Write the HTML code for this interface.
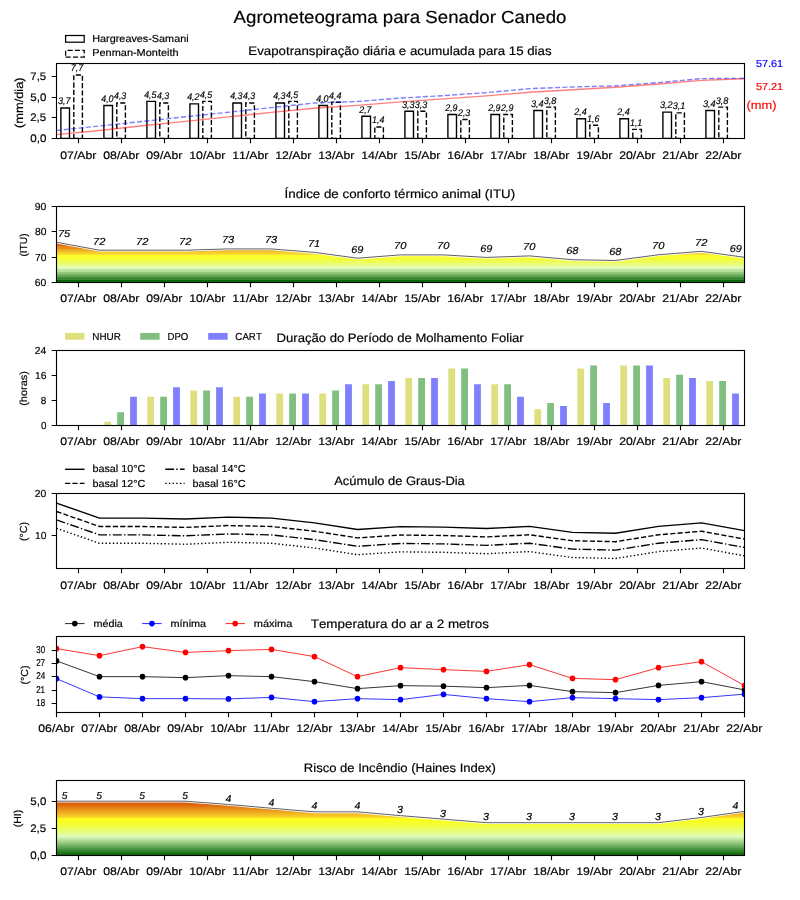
<!DOCTYPE html>
<html lang="pt"><head><meta charset="utf-8"><title>Agrometeograma para Senador Canedo</title>
<style>html,body{margin:0;padding:0;background:#fff}svg{display:block;will-change:transform}text{text-rendering:geometricPrecision;stroke:#000;stroke-width:.18px;font-family:"Liberation Sans",sans-serif;font-kerning:none;font-variant-ligatures:none;white-space:pre}</style></head>
<body>
<svg width="800" height="900" viewBox="0 0 800 900" font-family="'Liberation Sans', sans-serif">
<rect width="800" height="900" fill="#fff"/>
<defs>
<clipPath id="c0"><rect x="56.5" y="63.5" width="688.0" height="75.0"/></clipPath>
<clipPath id="c1"><rect x="56.5" y="206.5" width="688.0" height="76.0"/></clipPath>
<clipPath id="c2"><rect x="56.5" y="350.5" width="688.0" height="75.0"/></clipPath>
<clipPath id="c3"><rect x="56.5" y="493.5" width="688.0" height="75.0"/></clipPath>
<clipPath id="c4"><rect x="56.5" y="636.5" width="688.0" height="76.0"/></clipPath>
<clipPath id="c5"><rect x="56.5" y="780.5" width="688.0" height="75.0"/></clipPath>
</defs>
<text x="233.58" y="23" font-size="17.5" textLength="332.81" lengthAdjust="spacingAndGlyphs">Agrometeograma para Senador Canedo</text>
<g clip-path="url(#c0)">
<path d="M60.9 138.5h8.6v-30.54h-8.6zM103.9 138.5h8.6v-33.02h-8.6zM146.9 138.5h8.6v-37.14h-8.6zM189.9 138.5h8.6v-34.67h-8.6zM232.9 138.5h8.6v-35.49h-8.6zM275.9 138.5h8.6v-35.49h-8.6zM318.9 138.5h8.6v-33.02h-8.6zM361.9 138.5h8.6v-22.29h-8.6zM404.9 138.5h8.6v-27.24h-8.6zM447.9 138.5h8.6v-23.94h-8.6zM490.9 138.5h8.6v-23.94h-8.6zM533.9 138.5h8.6v-28.06h-8.6zM576.9 138.5h8.6v-19.81h-8.6zM619.9 138.5h8.6v-19.81h-8.6zM662.9 138.5h8.6v-26.41h-8.6zM705.9 138.5h8.6v-28.06h-8.6z" fill="none" stroke="#000" stroke-width="1.39"/>
<path d="M73.8 138.5h8.6v-63.56h-8.6zM116.8 138.5h8.6v-35.49h-8.6zM159.8 138.5h8.6v-35.49h-8.6zM202.8 138.5h8.6v-37.14h-8.6zM245.8 138.5h8.6v-35.49h-8.6zM288.8 138.5h8.6v-37.14h-8.6zM331.8 138.5h8.6v-36.32h-8.6zM374.8 138.5h8.6v-11.56h-8.6zM417.8 138.5h8.6v-27.24h-8.6zM460.8 138.5h8.6v-18.98h-8.6zM503.8 138.5h8.6v-23.94h-8.6zM546.8 138.5h8.6v-31.37h-8.6zM589.8 138.5h8.6v-13.21h-8.6zM632.8 138.5h8.6v-9.08h-8.6zM675.8 138.5h8.6v-25.59h-8.6zM718.8 138.5h8.6v-31.37h-8.6z" fill="none" stroke="#000" stroke-width="1.39" stroke-dasharray="5.14 2.22"/>
<polyline points="56.5,134.63 99.5,130.45 142.5,125.75 185.5,121.36 228.5,116.87 271.5,112.38 314.5,108.19 357.5,105.37 400.5,101.93 443.5,98.89 486.5,95.86 529.5,92.31 572.5,89.8 615.5,87.3 658.5,83.95 701.5,80.4 744.5,78.72" fill="none" stroke="#ff0000" stroke-opacity="0.5" stroke-width="1.39"/>
<polyline points="56.5,130.45 99.5,125.96 142.5,121.47 185.5,116.76 228.5,112.27 271.5,107.57 314.5,102.97 357.5,101.51 400.5,98.06 443.5,95.66 486.5,92.62 529.5,88.65 572.5,86.98 615.5,85.83 658.5,82.59 701.5,78.62 744.5,78.3" fill="none" stroke="#0000ff" stroke-opacity="0.5" stroke-width="1.39" stroke-dasharray="5.14 2.22"/>
</g>
<text x="57.91" y="104.36" font-size="9.63" font-style="italic" textLength="12.63" lengthAdjust="spacingAndGlyphs">3,7</text>
<text x="70.71" y="71.34" font-size="9.63" font-style="italic" textLength="12.63" lengthAdjust="spacingAndGlyphs">7,7</text>
<text x="101.19" y="101.88" font-size="9.63" font-style="italic" textLength="12.37" lengthAdjust="spacingAndGlyphs">4,0</text>
<text x="113.99" y="99.41" font-size="9.63" font-style="italic" textLength="12.26" lengthAdjust="spacingAndGlyphs">4,3</text>
<text x="144.19" y="97.76" font-size="9.63" font-style="italic" textLength="12.23" lengthAdjust="spacingAndGlyphs">4,5</text>
<text x="156.99" y="99.41" font-size="9.63" font-style="italic" textLength="12.26" lengthAdjust="spacingAndGlyphs">4,3</text>
<text x="187.19" y="100.23" font-size="9.63" font-style="italic" textLength="12.33" lengthAdjust="spacingAndGlyphs">4,2</text>
<text x="199.99" y="97.76" font-size="9.63" font-style="italic" textLength="12.23" lengthAdjust="spacingAndGlyphs">4,5</text>
<text x="230.19" y="99.41" font-size="9.63" font-style="italic" textLength="12.26" lengthAdjust="spacingAndGlyphs">4,3</text>
<text x="242.99" y="99.41" font-size="9.63" font-style="italic" textLength="12.26" lengthAdjust="spacingAndGlyphs">4,3</text>
<text x="273.19" y="99.41" font-size="9.63" font-style="italic" textLength="12.26" lengthAdjust="spacingAndGlyphs">4,3</text>
<text x="285.99" y="97.76" font-size="9.63" font-style="italic" textLength="12.23" lengthAdjust="spacingAndGlyphs">4,5</text>
<text x="316.19" y="101.88" font-size="9.63" font-style="italic" textLength="12.37" lengthAdjust="spacingAndGlyphs">4,0</text>
<text x="328.99" y="98.58" font-size="9.63" font-style="italic" textLength="12.46" lengthAdjust="spacingAndGlyphs">4,4</text>
<text x="359.19" y="112.61" font-size="9.63" font-style="italic" textLength="12.36" lengthAdjust="spacingAndGlyphs">2,7</text>
<text x="372.07" y="123.34" font-size="9.63" font-style="italic" textLength="12.39" lengthAdjust="spacingAndGlyphs">1,4</text>
<text x="401.91" y="107.66" font-size="9.63" font-style="italic" textLength="12.55" lengthAdjust="spacingAndGlyphs">3,3</text>
<text x="414.71" y="107.66" font-size="9.63" font-style="italic" textLength="12.55" lengthAdjust="spacingAndGlyphs">3,3</text>
<text x="445.19" y="110.96" font-size="9.63" font-style="italic" textLength="12.39" lengthAdjust="spacingAndGlyphs">2,9</text>
<text x="457.99" y="115.92" font-size="9.63" font-style="italic" textLength="12.27" lengthAdjust="spacingAndGlyphs">2,3</text>
<text x="488.19" y="110.96" font-size="9.63" font-style="italic" textLength="12.39" lengthAdjust="spacingAndGlyphs">2,9</text>
<text x="500.99" y="110.96" font-size="9.63" font-style="italic" textLength="12.39" lengthAdjust="spacingAndGlyphs">2,9</text>
<text x="530.91" y="106.84" font-size="9.63" font-style="italic" textLength="12.76" lengthAdjust="spacingAndGlyphs">3,4</text>
<text x="543.71" y="103.53" font-size="9.63" font-style="italic" textLength="12.69" lengthAdjust="spacingAndGlyphs">3,8</text>
<text x="574.19" y="115.09" font-size="9.63" font-style="italic" textLength="12.47" lengthAdjust="spacingAndGlyphs">2,4</text>
<text x="587.07" y="121.69" font-size="9.63" font-style="italic" textLength="12.27" lengthAdjust="spacingAndGlyphs">1,6</text>
<text x="617.19" y="115.09" font-size="9.63" font-style="italic" textLength="12.47" lengthAdjust="spacingAndGlyphs">2,4</text>
<text x="630.07" y="125.82" font-size="9.63" font-style="italic" textLength="12.14" lengthAdjust="spacingAndGlyphs">1,1</text>
<text x="659.91" y="108.49" font-size="9.63" font-style="italic" textLength="12.62" lengthAdjust="spacingAndGlyphs">3,2</text>
<text x="672.71" y="109.31" font-size="9.63" font-style="italic" textLength="12.53" lengthAdjust="spacingAndGlyphs">3,1</text>
<text x="702.91" y="106.84" font-size="9.63" font-style="italic" textLength="12.76" lengthAdjust="spacingAndGlyphs">3,4</text>
<text x="715.71" y="103.53" font-size="9.63" font-style="italic" textLength="12.69" lengthAdjust="spacingAndGlyphs">3,8</text>
<rect x="56.5" y="63.5" width="688.0" height="75.0" fill="none" stroke="#000" stroke-width="1.11"/>
<path d="M78.5 138.5v4.86M121.5 138.5v4.86M164.5 138.5v4.86M207.5 138.5v4.86M250.5 138.5v4.86M293.5 138.5v4.86M336.5 138.5v4.86M379.5 138.5v4.86M422.5 138.5v4.86M465.5 138.5v4.86M508.5 138.5v4.86M551.5 138.5v4.86M594.5 138.5v4.86M637.5 138.5v4.86M680.5 138.5v4.86M723.5 138.5v4.86" stroke="#000" stroke-width="1.11" fill="none"/>
<text x="60.25" y="158.75" font-size="10.94" textLength="36.15" lengthAdjust="spacingAndGlyphs">07/Abr</text>
<text x="103.25" y="158.75" font-size="10.94" textLength="36.15" lengthAdjust="spacingAndGlyphs">08/Abr</text>
<text x="146.25" y="158.75" font-size="10.94" textLength="36.15" lengthAdjust="spacingAndGlyphs">09/Abr</text>
<text x="189.27" y="158.75" font-size="10.94" textLength="36.12" lengthAdjust="spacingAndGlyphs">10/Abr</text>
<text x="232.27" y="158.75" font-size="10.94" textLength="36.12" lengthAdjust="spacingAndGlyphs">11/Abr</text>
<text x="275.27" y="158.75" font-size="10.94" textLength="36.12" lengthAdjust="spacingAndGlyphs">12/Abr</text>
<text x="318.27" y="158.75" font-size="10.94" textLength="36.12" lengthAdjust="spacingAndGlyphs">13/Abr</text>
<text x="361.27" y="158.75" font-size="10.94" textLength="36.12" lengthAdjust="spacingAndGlyphs">14/Abr</text>
<text x="404.27" y="158.75" font-size="10.94" textLength="36.12" lengthAdjust="spacingAndGlyphs">15/Abr</text>
<text x="447.27" y="158.75" font-size="10.94" textLength="36.12" lengthAdjust="spacingAndGlyphs">16/Abr</text>
<text x="490.27" y="158.75" font-size="10.94" textLength="36.12" lengthAdjust="spacingAndGlyphs">17/Abr</text>
<text x="533.27" y="158.75" font-size="10.94" textLength="36.12" lengthAdjust="spacingAndGlyphs">18/Abr</text>
<text x="576.27" y="158.75" font-size="10.94" textLength="36.12" lengthAdjust="spacingAndGlyphs">19/Abr</text>
<text x="619.19" y="158.75" font-size="10.94" textLength="36.2" lengthAdjust="spacingAndGlyphs">20/Abr</text>
<text x="662.19" y="158.75" font-size="10.94" textLength="36.2" lengthAdjust="spacingAndGlyphs">21/Abr</text>
<text x="705.19" y="158.75" font-size="10.94" textLength="36.2" lengthAdjust="spacingAndGlyphs">22/Abr</text>
<path d="M56.5 76.5h-4.86M56.5 97.5h-4.86M56.5 117.5h-4.86M56.5 138.5h-4.86" stroke="#000" stroke-width="1.11" fill="none"/>
<text x="30.3" y="80.3" font-size="10.94" textLength="15.87" lengthAdjust="spacingAndGlyphs">7,5</text>
<text x="30.38" y="101.3" font-size="10.94" textLength="15.98" lengthAdjust="spacingAndGlyphs">5,0</text>
<text x="30.22" y="121.3" font-size="10.94" textLength="15.95" lengthAdjust="spacingAndGlyphs">2,5</text>
<text x="30.27" y="142.3" font-size="10.94" textLength="16.09" lengthAdjust="spacingAndGlyphs">0,0</text>
<text transform="translate(22.6 102.7) rotate(-90)" x="-25.35" y="0" font-size="11.67" textLength="50.69" lengthAdjust="spacingAndGlyphs">(mm/dia)</text>
<text x="248.39" y="55.4" font-size="12.32" textLength="303.19" lengthAdjust="spacingAndGlyphs">Evapotranspiração diária e acumulada para 15 dias</text>
<rect x="65.6" y="35.5" width="18.6" height="6.7" fill="none" stroke="#000" stroke-width="1.25"/>
<path d="M65.6 57.1h18.6v-6.7h-18.6z" fill="none" stroke="#000" stroke-width="1.25" stroke-dasharray="5.14 2.22"/>
<text x="92.27" y="41.7" font-size="10.21" textLength="96.33" lengthAdjust="spacingAndGlyphs">Hargreaves-Samani</text>
<text x="92.26" y="56.4" font-size="10.21" textLength="86.32" lengthAdjust="spacingAndGlyphs">Penman-Monteith</text>
<text x="755.92" y="67.1" font-size="10.21" fill="#0000ff" style="stroke:#0000ff" textLength="27.29" lengthAdjust="spacingAndGlyphs">57.61</text>
<text x="755.92" y="90" font-size="10.21" fill="#ff0000" style="stroke:#ff0000" textLength="27.29" lengthAdjust="spacingAndGlyphs">57.21</text>
<text x="746.46" y="108.7" font-size="11.67" fill="#ff0000" style="stroke:#ff0000" textLength="30" lengthAdjust="spacingAndGlyphs">(mm)</text>
<clipPath id="k1"><polygon points="56.5,282.5 56.5,242.22 99.5,250.2 142.5,250.2 185.5,250.2 228.5,248.93 271.5,248.93 314.5,252.35 357.5,258.18 400.5,254.89 443.5,254.89 486.5,257.42 529.5,255.9 572.5,259.7 615.5,260.46 658.5,254.76 701.5,251.34 744.5,257.29 744.5,282.5"/></clipPath>
<g clip-path="url(#k1)">
<rect x="56.5" y="279.69" width="688.0" height="3.11" fill="#0b680a"/>
<rect x="56.5" y="276.87" width="688.0" height="3.11" fill="#388730"/>
<rect x="56.5" y="274.06" width="688.0" height="3.11" fill="#65a656"/>
<rect x="56.5" y="271.24" width="688.0" height="3.11" fill="#92c67d"/>
<rect x="56.5" y="268.43" width="688.0" height="3.11" fill="#bfe5a3"/>
<rect x="56.5" y="265.61" width="688.0" height="3.11" fill="#e2fcb2"/>
<rect x="56.5" y="262.8" width="688.0" height="3.11" fill="#e8fd7f"/>
<rect x="56.5" y="259.98" width="688.0" height="3.11" fill="#eefd55"/>
<rect x="56.5" y="257.17" width="688.0" height="3.11" fill="#f4fe34"/>
<rect x="56.5" y="254.35" width="688.0" height="3.11" fill="#faff1f"/>
<rect x="56.5" y="251.54" width="688.0" height="3.11" fill="#f8d028"/>
<rect x="56.5" y="248.72" width="688.0" height="3.11" fill="#efaf1f"/>
<rect x="56.5" y="245.91" width="688.0" height="3.11" fill="#e78d17"/>
<rect x="56.5" y="243.09" width="688.0" height="3.11" fill="#df6b0f"/>
<rect x="56.5" y="240.28" width="688.0" height="3.11" fill="#d64a06"/>
<rect x="56.5" y="237.46" width="688.0" height="3.11" fill="#d03100"/>
</g>
<g clip-path="url(#c1)" fill="none"><polyline points="56.5,242.22 99.5,250.2 142.5,250.2 185.5,250.2 228.5,248.93 271.5,248.93 314.5,252.35 357.5,258.18 400.5,254.89 443.5,254.89 486.5,257.42 529.5,255.9 572.5,259.7 615.5,260.46 658.5,254.76 701.5,251.34 744.5,257.29" stroke="#fff" stroke-width="2.6"/><polyline points="56.5,242.22 99.5,250.2 142.5,250.2 185.5,250.2 228.5,248.93 271.5,248.93 314.5,252.35 357.5,258.18 400.5,254.89 443.5,254.89 486.5,257.42 529.5,255.9 572.5,259.7 615.5,260.46 658.5,254.76 701.5,251.34 744.5,257.29" stroke="#000" stroke-opacity="0.7" stroke-width="0.9"/></g>
<text x="58" y="236.62" font-size="10.21" font-style="italic" textLength="12.21" lengthAdjust="spacingAndGlyphs">75</text>
<text x="92.99" y="244.6" font-size="10.21" font-style="italic" textLength="12.34" lengthAdjust="spacingAndGlyphs">72</text>
<text x="135.99" y="244.6" font-size="10.21" font-style="italic" textLength="12.34" lengthAdjust="spacingAndGlyphs">72</text>
<text x="178.99" y="244.6" font-size="10.21" font-style="italic" textLength="12.34" lengthAdjust="spacingAndGlyphs">72</text>
<text x="222" y="243.33" font-size="10.21" font-style="italic" textLength="12.24" lengthAdjust="spacingAndGlyphs">73</text>
<text x="265" y="243.33" font-size="10.21" font-style="italic" textLength="12.24" lengthAdjust="spacingAndGlyphs">73</text>
<text x="308" y="246.75" font-size="10.21" font-style="italic" textLength="12.21" lengthAdjust="spacingAndGlyphs">71</text>
<text x="351.23" y="252.58" font-size="10.21" font-style="italic" textLength="12.16" lengthAdjust="spacingAndGlyphs">69</text>
<text x="393.98" y="249.29" font-size="10.21" font-style="italic" textLength="12.39" lengthAdjust="spacingAndGlyphs">70</text>
<text x="436.98" y="249.29" font-size="10.21" font-style="italic" textLength="12.39" lengthAdjust="spacingAndGlyphs">70</text>
<text x="480.23" y="251.82" font-size="10.21" font-style="italic" textLength="12.16" lengthAdjust="spacingAndGlyphs">69</text>
<text x="522.98" y="250.3" font-size="10.21" font-style="italic" textLength="12.39" lengthAdjust="spacingAndGlyphs">70</text>
<text x="566.23" y="254.1" font-size="10.21" font-style="italic" textLength="12.19" lengthAdjust="spacingAndGlyphs">68</text>
<text x="609.23" y="254.86" font-size="10.21" font-style="italic" textLength="12.19" lengthAdjust="spacingAndGlyphs">68</text>
<text x="651.98" y="249.16" font-size="10.21" font-style="italic" textLength="12.39" lengthAdjust="spacingAndGlyphs">70</text>
<text x="694.99" y="245.74" font-size="10.21" font-style="italic" textLength="12.34" lengthAdjust="spacingAndGlyphs">72</text>
<text x="729.73" y="251.69" font-size="10.21" font-style="italic" textLength="12.16" lengthAdjust="spacingAndGlyphs">69</text>
<rect x="56.5" y="206.5" width="688.0" height="76.0" fill="none" stroke="#000" stroke-width="1.11"/>
<path d="M78.5 282.5v4.86M121.5 282.5v4.86M164.5 282.5v4.86M207.5 282.5v4.86M250.5 282.5v4.86M293.5 282.5v4.86M336.5 282.5v4.86M379.5 282.5v4.86M422.5 282.5v4.86M465.5 282.5v4.86M508.5 282.5v4.86M551.5 282.5v4.86M594.5 282.5v4.86M637.5 282.5v4.86M680.5 282.5v4.86M723.5 282.5v4.86" stroke="#000" stroke-width="1.11" fill="none"/>
<text x="60.25" y="301.65" font-size="10.94" textLength="36.15" lengthAdjust="spacingAndGlyphs">07/Abr</text>
<text x="103.25" y="301.65" font-size="10.94" textLength="36.15" lengthAdjust="spacingAndGlyphs">08/Abr</text>
<text x="146.25" y="301.65" font-size="10.94" textLength="36.15" lengthAdjust="spacingAndGlyphs">09/Abr</text>
<text x="189.27" y="301.65" font-size="10.94" textLength="36.12" lengthAdjust="spacingAndGlyphs">10/Abr</text>
<text x="232.27" y="301.65" font-size="10.94" textLength="36.12" lengthAdjust="spacingAndGlyphs">11/Abr</text>
<text x="275.27" y="301.65" font-size="10.94" textLength="36.12" lengthAdjust="spacingAndGlyphs">12/Abr</text>
<text x="318.27" y="301.65" font-size="10.94" textLength="36.12" lengthAdjust="spacingAndGlyphs">13/Abr</text>
<text x="361.27" y="301.65" font-size="10.94" textLength="36.12" lengthAdjust="spacingAndGlyphs">14/Abr</text>
<text x="404.27" y="301.65" font-size="10.94" textLength="36.12" lengthAdjust="spacingAndGlyphs">15/Abr</text>
<text x="447.27" y="301.65" font-size="10.94" textLength="36.12" lengthAdjust="spacingAndGlyphs">16/Abr</text>
<text x="490.27" y="301.65" font-size="10.94" textLength="36.12" lengthAdjust="spacingAndGlyphs">17/Abr</text>
<text x="533.27" y="301.65" font-size="10.94" textLength="36.12" lengthAdjust="spacingAndGlyphs">18/Abr</text>
<text x="576.27" y="301.65" font-size="10.94" textLength="36.12" lengthAdjust="spacingAndGlyphs">19/Abr</text>
<text x="619.19" y="301.65" font-size="10.94" textLength="36.2" lengthAdjust="spacingAndGlyphs">20/Abr</text>
<text x="662.19" y="301.65" font-size="10.94" textLength="36.2" lengthAdjust="spacingAndGlyphs">21/Abr</text>
<text x="705.19" y="301.65" font-size="10.94" textLength="36.2" lengthAdjust="spacingAndGlyphs">22/Abr</text>
<path d="M56.5 206.5h-4.86M56.5 231.5h-4.86M56.5 257.5h-4.86M56.5 282.5h-4.86" stroke="#000" stroke-width="1.11" fill="none"/>
<text x="34.82" y="210.05" font-size="10.21" textLength="11.56" lengthAdjust="spacingAndGlyphs">90</text>
<text x="34.91" y="235.05" font-size="10.21" textLength="11.47" lengthAdjust="spacingAndGlyphs">80</text>
<text x="34.96" y="261.05" font-size="10.21" textLength="11.42" lengthAdjust="spacingAndGlyphs">70</text>
<text x="34.85" y="286.05" font-size="10.21" textLength="11.54" lengthAdjust="spacingAndGlyphs">60</text>
<text transform="translate(26.7 245) rotate(-90)" x="-11.61" y="0" font-size="10.21" textLength="23.21" lengthAdjust="spacingAndGlyphs">(ITU)</text>
<text x="284.64" y="198.4" font-size="12.32" textLength="230.54" lengthAdjust="spacingAndGlyphs">Índice de conforto térmico animal (ITU)</text>
<path d="M104.3 425.5h6.8v-3.83h-6.8zM147.3 425.5h6.8v-28.82h-6.8zM190.3 425.5h6.8v-35.08h-6.8zM233.3 425.5h6.8v-28.82h-6.8zM276.3 425.5h6.8v-31.95h-6.8zM319.3 425.5h6.8v-31.95h-6.8zM362.3 425.5h6.8v-41.33h-6.8zM405.3 425.5h6.8v-47.58h-6.8zM448.3 425.5h6.8v-56.95h-6.8zM491.3 425.5h6.8v-41.33h-6.8zM534.3 425.5h6.8v-16.32h-6.8zM577.3 425.5h6.8v-56.95h-6.8zM620.3 425.5h6.8v-60.08h-6.8zM663.3 425.5h6.8v-47.58h-6.8zM706.3 425.5h6.8v-44.45h-6.8z" fill="#dfdf80"/>
<path d="M117.2 425.5h6.8v-13.2h-6.8zM160.2 425.5h6.8v-28.82h-6.8zM203.2 425.5h6.8v-35.08h-6.8zM246.2 425.5h6.8v-28.82h-6.8zM289.2 425.5h6.8v-31.95h-6.8zM332.2 425.5h6.8v-35.08h-6.8zM375.2 425.5h6.8v-41.33h-6.8zM418.2 425.5h6.8v-47.58h-6.8zM461.2 425.5h6.8v-56.95h-6.8zM504.2 425.5h6.8v-41.33h-6.8zM547.2 425.5h6.8v-22.57h-6.8zM590.2 425.5h6.8v-60.08h-6.8zM633.2 425.5h6.8v-60.08h-6.8zM676.2 425.5h6.8v-50.7h-6.8zM719.2 425.5h6.8v-44.45h-6.8z" fill="#80bf80"/>
<path d="M130.1 425.5h6.8v-28.82h-6.8zM173.1 425.5h6.8v-38.2h-6.8zM216.1 425.5h6.8v-38.2h-6.8zM259.1 425.5h6.8v-31.95h-6.8zM302.1 425.5h6.8v-31.95h-6.8zM345.1 425.5h6.8v-41.33h-6.8zM388.1 425.5h6.8v-44.45h-6.8zM431.1 425.5h6.8v-47.58h-6.8zM474.1 425.5h6.8v-41.33h-6.8zM517.1 425.5h6.8v-28.82h-6.8zM560.1 425.5h6.8v-19.45h-6.8zM603.1 425.5h6.8v-22.57h-6.8zM646.1 425.5h6.8v-60.08h-6.8zM689.1 425.5h6.8v-47.58h-6.8zM732.1 425.5h6.8v-31.95h-6.8z" fill="#8080ff"/>
<rect x="56.5" y="350.5" width="688.0" height="75.0" fill="none" stroke="#000" stroke-width="1.11"/>
<path d="M78.5 425.5v4.86M121.5 425.5v4.86M164.5 425.5v4.86M207.5 425.5v4.86M250.5 425.5v4.86M293.5 425.5v4.86M336.5 425.5v4.86M379.5 425.5v4.86M422.5 425.5v4.86M465.5 425.5v4.86M508.5 425.5v4.86M551.5 425.5v4.86M594.5 425.5v4.86M637.5 425.5v4.86M680.5 425.5v4.86M723.5 425.5v4.86" stroke="#000" stroke-width="1.11" fill="none"/>
<text x="60.25" y="444.65" font-size="10.94" textLength="36.15" lengthAdjust="spacingAndGlyphs">07/Abr</text>
<text x="103.25" y="444.65" font-size="10.94" textLength="36.15" lengthAdjust="spacingAndGlyphs">08/Abr</text>
<text x="146.25" y="444.65" font-size="10.94" textLength="36.15" lengthAdjust="spacingAndGlyphs">09/Abr</text>
<text x="189.27" y="444.65" font-size="10.94" textLength="36.12" lengthAdjust="spacingAndGlyphs">10/Abr</text>
<text x="232.27" y="444.65" font-size="10.94" textLength="36.12" lengthAdjust="spacingAndGlyphs">11/Abr</text>
<text x="275.27" y="444.65" font-size="10.94" textLength="36.12" lengthAdjust="spacingAndGlyphs">12/Abr</text>
<text x="318.27" y="444.65" font-size="10.94" textLength="36.12" lengthAdjust="spacingAndGlyphs">13/Abr</text>
<text x="361.27" y="444.65" font-size="10.94" textLength="36.12" lengthAdjust="spacingAndGlyphs">14/Abr</text>
<text x="404.27" y="444.65" font-size="10.94" textLength="36.12" lengthAdjust="spacingAndGlyphs">15/Abr</text>
<text x="447.27" y="444.65" font-size="10.94" textLength="36.12" lengthAdjust="spacingAndGlyphs">16/Abr</text>
<text x="490.27" y="444.65" font-size="10.94" textLength="36.12" lengthAdjust="spacingAndGlyphs">17/Abr</text>
<text x="533.27" y="444.65" font-size="10.94" textLength="36.12" lengthAdjust="spacingAndGlyphs">18/Abr</text>
<text x="576.27" y="444.65" font-size="10.94" textLength="36.12" lengthAdjust="spacingAndGlyphs">19/Abr</text>
<text x="619.19" y="444.65" font-size="10.94" textLength="36.2" lengthAdjust="spacingAndGlyphs">20/Abr</text>
<text x="662.19" y="444.65" font-size="10.94" textLength="36.2" lengthAdjust="spacingAndGlyphs">21/Abr</text>
<text x="705.19" y="444.65" font-size="10.94" textLength="36.2" lengthAdjust="spacingAndGlyphs">22/Abr</text>
<path d="M56.5 350.5h-4.86M56.5 375.5h-4.86M56.5 400.5h-4.86M56.5 425.5h-4.86" stroke="#000" stroke-width="1.11" fill="none"/>
<text x="34.89" y="354.05" font-size="10.21" textLength="11.49" lengthAdjust="spacingAndGlyphs">24</text>
<text x="34.96" y="379.05" font-size="10.21" textLength="11.51" lengthAdjust="spacingAndGlyphs">16</text>
<text x="40.86" y="404.05" font-size="10.21" textLength="5.53" lengthAdjust="spacingAndGlyphs">8</text>
<text x="40.89" y="429.05" font-size="10.21" textLength="5.47" lengthAdjust="spacingAndGlyphs">0</text>
<text transform="translate(26.7 388.5) rotate(-90)" x="-17.28" y="0" font-size="10.21" textLength="34.56" lengthAdjust="spacingAndGlyphs">(horas)</text>
<text x="276.58" y="342.4" font-size="12.32" textLength="247.14" lengthAdjust="spacingAndGlyphs">Duração do Período de Molhamento Foliar</text>
<rect x="65.06" y="332.95" width="19.44" height="6.8" fill="#dfdf80"/>
<text x="92.31" y="339.8" font-size="10.21" textLength="28.63" lengthAdjust="spacingAndGlyphs">NHUR</text>
<rect x="140.2" y="332.95" width="19.44" height="6.8" fill="#80bf80"/>
<text x="167.47" y="339.8" font-size="10.21" textLength="20.85" lengthAdjust="spacingAndGlyphs">DPO</text>
<rect x="208.2" y="332.95" width="19.44" height="6.8" fill="#8080ff"/>
<text x="235.36" y="339.8" font-size="10.21" textLength="26.46" lengthAdjust="spacingAndGlyphs">CART</text>
<g clip-path="url(#c3)" fill="none" stroke="#000" stroke-width="1.39">
<polyline points="56.5,503.1 99.5,518.08 142.5,518.08 185.5,519.03 228.5,517.13 271.5,518.08 314.5,522.83 357.5,529.49 400.5,526.64 443.5,527.11 486.5,528.54 529.5,526.4 572.5,532.34 615.5,533.29 658.5,526.4 701.5,522.83 744.5,530.68"/>
<polyline points="56.5,511.5 99.5,526.48 142.5,526.48 185.5,527.43 228.5,525.53 271.5,526.48 314.5,531.23 357.5,537.89 400.5,535.04 443.5,535.51 486.5,536.94 529.5,534.8 572.5,540.74 615.5,541.69 658.5,534.8 701.5,531.23 744.5,539.08" stroke-dasharray="5.14 2.22"/>
<polyline points="56.5,519.9 99.5,534.88 142.5,534.88 185.5,535.83 228.5,533.93 271.5,534.88 314.5,539.63 357.5,546.29 400.5,543.44 443.5,543.91 486.5,545.34 529.5,543.2 572.5,549.14 615.5,550.09 658.5,543.2 701.5,539.63 744.5,547.48" stroke-dasharray="8.89 2.22 1.39 2.22"/>
<polyline points="56.5,528.3 99.5,543.28 142.5,543.28 185.5,544.23 228.5,542.33 271.5,543.28 314.5,548.03 357.5,554.69 400.5,551.84 443.5,552.31 486.5,553.74 529.5,551.6 572.5,557.54 615.5,558.49 658.5,551.6 701.5,548.03 744.5,555.88" stroke-dasharray="1.39 2.29"/>
</g>
<rect x="56.5" y="493.5" width="688.0" height="75.0" fill="none" stroke="#000" stroke-width="1.11"/>
<path d="M78.5 568.5v4.86M121.5 568.5v4.86M164.5 568.5v4.86M207.5 568.5v4.86M250.5 568.5v4.86M293.5 568.5v4.86M336.5 568.5v4.86M379.5 568.5v4.86M422.5 568.5v4.86M465.5 568.5v4.86M508.5 568.5v4.86M551.5 568.5v4.86M594.5 568.5v4.86M637.5 568.5v4.86M680.5 568.5v4.86M723.5 568.5v4.86" stroke="#000" stroke-width="1.11" fill="none"/>
<text x="60.25" y="588.75" font-size="10.94" textLength="36.15" lengthAdjust="spacingAndGlyphs">07/Abr</text>
<text x="103.25" y="588.75" font-size="10.94" textLength="36.15" lengthAdjust="spacingAndGlyphs">08/Abr</text>
<text x="146.25" y="588.75" font-size="10.94" textLength="36.15" lengthAdjust="spacingAndGlyphs">09/Abr</text>
<text x="189.27" y="588.75" font-size="10.94" textLength="36.12" lengthAdjust="spacingAndGlyphs">10/Abr</text>
<text x="232.27" y="588.75" font-size="10.94" textLength="36.12" lengthAdjust="spacingAndGlyphs">11/Abr</text>
<text x="275.27" y="588.75" font-size="10.94" textLength="36.12" lengthAdjust="spacingAndGlyphs">12/Abr</text>
<text x="318.27" y="588.75" font-size="10.94" textLength="36.12" lengthAdjust="spacingAndGlyphs">13/Abr</text>
<text x="361.27" y="588.75" font-size="10.94" textLength="36.12" lengthAdjust="spacingAndGlyphs">14/Abr</text>
<text x="404.27" y="588.75" font-size="10.94" textLength="36.12" lengthAdjust="spacingAndGlyphs">15/Abr</text>
<text x="447.27" y="588.75" font-size="10.94" textLength="36.12" lengthAdjust="spacingAndGlyphs">16/Abr</text>
<text x="490.27" y="588.75" font-size="10.94" textLength="36.12" lengthAdjust="spacingAndGlyphs">17/Abr</text>
<text x="533.27" y="588.75" font-size="10.94" textLength="36.12" lengthAdjust="spacingAndGlyphs">18/Abr</text>
<text x="576.27" y="588.75" font-size="10.94" textLength="36.12" lengthAdjust="spacingAndGlyphs">19/Abr</text>
<text x="619.19" y="588.75" font-size="10.94" textLength="36.2" lengthAdjust="spacingAndGlyphs">20/Abr</text>
<text x="662.19" y="588.75" font-size="10.94" textLength="36.2" lengthAdjust="spacingAndGlyphs">21/Abr</text>
<text x="705.19" y="588.75" font-size="10.94" textLength="36.2" lengthAdjust="spacingAndGlyphs">22/Abr</text>
<path d="M56.5 493.5h-4.86M56.5 535.5h-4.86" stroke="#000" stroke-width="1.11" fill="none"/>
<text x="34.89" y="497.05" font-size="10.21" textLength="11.5" lengthAdjust="spacingAndGlyphs">20</text>
<text x="34.97" y="539.05" font-size="10.21" textLength="11.41" lengthAdjust="spacingAndGlyphs">10</text>
<text transform="translate(26.7 531.5) rotate(-90)" x="-9.48" y="0" font-size="10.21" textLength="18.97" lengthAdjust="spacingAndGlyphs">(°C)</text>
<text x="334.19" y="485.4" font-size="12.32" textLength="130.62" lengthAdjust="spacingAndGlyphs">Acúmulo de Graus-Dia</text>
<path d="M65.06 469.3h19.44" stroke="#000" stroke-width="1.39" fill="none"/>
<text x="92.45" y="471.9" font-size="10.21" textLength="52.92" lengthAdjust="spacingAndGlyphs">basal 10°C</text>
<path d="M65.06 483.4h19.44" stroke="#000" stroke-width="1.39" fill="none" stroke-dasharray="5.14 2.22"/>
<text x="92.45" y="486.6" font-size="10.21" textLength="52.92" lengthAdjust="spacingAndGlyphs">basal 12°C</text>
<path d="M165.2 469.3h19.44" stroke="#000" stroke-width="1.39" fill="none" stroke-dasharray="8.89 2.22 1.39 2.22"/>
<text x="192.59" y="471.9" font-size="10.21" textLength="52.92" lengthAdjust="spacingAndGlyphs">basal 14°C</text>
<path d="M165.2 483.4h19.44" stroke="#000" stroke-width="1.39" fill="none" stroke-dasharray="1.39 2.29"/>
<text x="192.59" y="486.6" font-size="10.21" textLength="52.92" lengthAdjust="spacingAndGlyphs">basal 16°C</text>
<g clip-path="url(#c4)">
<polyline points="56.5,660.9 99.5,676.65 142.5,676.65 185.5,677.65 228.5,675.65 271.5,676.65 314.5,681.65 357.5,688.65 400.5,685.65 443.5,686.15 486.5,687.65 529.5,685.4 572.5,691.65 615.5,692.65 658.5,685.4 701.5,681.65 744.5,689.9" fill="none" stroke="#000" stroke-width="0.8"/>
<g fill="#000"><circle cx="56.5" cy="660.9" r="2.8"/><circle cx="99.5" cy="676.65" r="2.8"/><circle cx="142.5" cy="676.65" r="2.8"/><circle cx="185.5" cy="677.65" r="2.8"/><circle cx="228.5" cy="675.65" r="2.8"/><circle cx="271.5" cy="676.65" r="2.8"/><circle cx="314.5" cy="681.65" r="2.8"/><circle cx="357.5" cy="688.65" r="2.8"/><circle cx="400.5" cy="685.65" r="2.8"/><circle cx="443.5" cy="686.15" r="2.8"/><circle cx="486.5" cy="687.65" r="2.8"/><circle cx="529.5" cy="685.4" r="2.8"/><circle cx="572.5" cy="691.65" r="2.8"/><circle cx="615.5" cy="692.65" r="2.8"/><circle cx="658.5" cy="685.4" r="2.8"/><circle cx="701.5" cy="681.65" r="2.8"/><circle cx="744.5" cy="689.9" r="2.8"/></g>
<polyline points="56.5,678.65 99.5,696.9 142.5,698.65 185.5,698.65 228.5,698.9 271.5,697.4 314.5,701.65 357.5,698.65 400.5,699.65 443.5,694.4 486.5,698.65 529.5,701.65 572.5,697.65 615.5,698.65 658.5,699.65 701.5,697.65 744.5,694.15" fill="none" stroke="#0000ff" stroke-width="0.8"/>
<g fill="#0000ff"><circle cx="56.5" cy="678.65" r="2.8"/><circle cx="99.5" cy="696.9" r="2.8"/><circle cx="142.5" cy="698.65" r="2.8"/><circle cx="185.5" cy="698.65" r="2.8"/><circle cx="228.5" cy="698.9" r="2.8"/><circle cx="271.5" cy="697.4" r="2.8"/><circle cx="314.5" cy="701.65" r="2.8"/><circle cx="357.5" cy="698.65" r="2.8"/><circle cx="400.5" cy="699.65" r="2.8"/><circle cx="443.5" cy="694.4" r="2.8"/><circle cx="486.5" cy="698.65" r="2.8"/><circle cx="529.5" cy="701.65" r="2.8"/><circle cx="572.5" cy="697.65" r="2.8"/><circle cx="615.5" cy="698.65" r="2.8"/><circle cx="658.5" cy="699.65" r="2.8"/><circle cx="701.5" cy="697.65" r="2.8"/><circle cx="744.5" cy="694.15" r="2.8"/></g>
<polyline points="56.5,648.65 99.5,655.65 142.5,646.65 185.5,652.4 228.5,650.65 271.5,649.4 314.5,656.65 357.5,676.65 400.5,667.65 443.5,669.65 486.5,671.4 529.5,664.65 572.5,678.4 615.5,679.65 658.5,667.65 701.5,661.65 744.5,685.65" fill="none" stroke="#ff0000" stroke-width="0.8"/>
<g fill="#ff0000"><circle cx="56.5" cy="648.65" r="2.8"/><circle cx="99.5" cy="655.65" r="2.8"/><circle cx="142.5" cy="646.65" r="2.8"/><circle cx="185.5" cy="652.4" r="2.8"/><circle cx="228.5" cy="650.65" r="2.8"/><circle cx="271.5" cy="649.4" r="2.8"/><circle cx="314.5" cy="656.65" r="2.8"/><circle cx="357.5" cy="676.65" r="2.8"/><circle cx="400.5" cy="667.65" r="2.8"/><circle cx="443.5" cy="669.65" r="2.8"/><circle cx="486.5" cy="671.4" r="2.8"/><circle cx="529.5" cy="664.65" r="2.8"/><circle cx="572.5" cy="678.4" r="2.8"/><circle cx="615.5" cy="679.65" r="2.8"/><circle cx="658.5" cy="667.65" r="2.8"/><circle cx="701.5" cy="661.65" r="2.8"/><circle cx="744.5" cy="685.65" r="2.8"/></g>
</g>
<rect x="56.5" y="636.5" width="688.0" height="76.0" fill="none" stroke="#000" stroke-width="1.11"/>
<path d="M56.5 712.5v4.86M99.5 712.5v4.86M142.5 712.5v4.86M185.5 712.5v4.86M228.5 712.5v4.86M271.5 712.5v4.86M314.5 712.5v4.86M357.5 712.5v4.86M400.5 712.5v4.86M443.5 712.5v4.86M486.5 712.5v4.86M529.5 712.5v4.86M572.5 712.5v4.86M615.5 712.5v4.86M658.5 712.5v4.86M701.5 712.5v4.86M744.5 712.5v4.86" stroke="#000" stroke-width="1.11" fill="none"/>
<text x="38.25" y="732" font-size="10.94" textLength="36.15" lengthAdjust="spacingAndGlyphs">06/Abr</text>
<text x="81.25" y="732" font-size="10.94" textLength="36.15" lengthAdjust="spacingAndGlyphs">07/Abr</text>
<text x="124.25" y="732" font-size="10.94" textLength="36.15" lengthAdjust="spacingAndGlyphs">08/Abr</text>
<text x="167.25" y="732" font-size="10.94" textLength="36.15" lengthAdjust="spacingAndGlyphs">09/Abr</text>
<text x="210.27" y="732" font-size="10.94" textLength="36.12" lengthAdjust="spacingAndGlyphs">10/Abr</text>
<text x="253.27" y="732" font-size="10.94" textLength="36.12" lengthAdjust="spacingAndGlyphs">11/Abr</text>
<text x="296.27" y="732" font-size="10.94" textLength="36.12" lengthAdjust="spacingAndGlyphs">12/Abr</text>
<text x="339.27" y="732" font-size="10.94" textLength="36.12" lengthAdjust="spacingAndGlyphs">13/Abr</text>
<text x="382.27" y="732" font-size="10.94" textLength="36.12" lengthAdjust="spacingAndGlyphs">14/Abr</text>
<text x="425.27" y="732" font-size="10.94" textLength="36.12" lengthAdjust="spacingAndGlyphs">15/Abr</text>
<text x="468.27" y="732" font-size="10.94" textLength="36.12" lengthAdjust="spacingAndGlyphs">16/Abr</text>
<text x="511.27" y="732" font-size="10.94" textLength="36.12" lengthAdjust="spacingAndGlyphs">17/Abr</text>
<text x="554.27" y="732" font-size="10.94" textLength="36.12" lengthAdjust="spacingAndGlyphs">18/Abr</text>
<text x="597.27" y="732" font-size="10.94" textLength="36.12" lengthAdjust="spacingAndGlyphs">19/Abr</text>
<text x="640.19" y="732" font-size="10.94" textLength="36.2" lengthAdjust="spacingAndGlyphs">20/Abr</text>
<text x="683.19" y="732" font-size="10.94" textLength="36.2" lengthAdjust="spacingAndGlyphs">21/Abr</text>
<text x="726.19" y="732" font-size="10.94" textLength="36.2" lengthAdjust="spacingAndGlyphs">22/Abr</text>
<path d="M56.5 650.5h-4.86M56.5 663.5h-4.86M56.5 676.5h-4.86M56.5 690.5h-4.86M56.5 703.5h-4.86" stroke="#000" stroke-width="1.11" fill="none"/>
<text x="36.27" y="652.79" font-size="9.89" textLength="8.85" lengthAdjust="spacingAndGlyphs">30</text>
<text x="36.15" y="665.79" font-size="9.89" textLength="8.93" lengthAdjust="spacingAndGlyphs">27</text>
<text x="36.15" y="678.79" font-size="9.89" textLength="8.98" lengthAdjust="spacingAndGlyphs">24</text>
<text x="36.16" y="692.79" font-size="9.89" textLength="8.86" lengthAdjust="spacingAndGlyphs">21</text>
<text x="36.21" y="705.79" font-size="9.89" textLength="8.94" lengthAdjust="spacingAndGlyphs">18</text>
<text transform="translate(28.1 675) rotate(-90)" x="-9.48" y="0" font-size="10.21" textLength="18.97" lengthAdjust="spacingAndGlyphs">(°C)</text>
<text x="310.72" y="628.4" font-size="12.32" textLength="178.15" lengthAdjust="spacingAndGlyphs">Temperatura do ar a 2 metros</text>
<path d="M65.06 623.6h19.44" stroke="#000" stroke-width="0.85" fill="none"/>
<circle cx="74.78" cy="623.6" r="2.8" fill="#000"/>
<text x="93.43" y="626.5" font-size="10.21" textLength="29.38" lengthAdjust="spacingAndGlyphs">média</text>
<path d="M142.2 623.6h19.44" stroke="#0000ff" stroke-width="0.85" fill="none"/>
<circle cx="151.92" cy="623.6" r="2.8" fill="#0000ff"/>
<text x="170.57" y="626.5" font-size="10.21" textLength="35.59" lengthAdjust="spacingAndGlyphs">mínima</text>
<path d="M225.5 623.6h19.44" stroke="#ff0000" stroke-width="0.85" fill="none"/>
<circle cx="235.22" cy="623.6" r="2.8" fill="#ff0000"/>
<text x="253.86" y="626.5" font-size="10.21" textLength="38.46" lengthAdjust="spacingAndGlyphs">máxima</text>
<linearGradient id="gh" x1="0" y1="1" x2="0" y2="0">
<stop offset="0%" stop-color="#006000"/>
<stop offset="2.5%" stop-color="#116c0e"/>
<stop offset="5%" stop-color="#22771d"/>
<stop offset="7.5%" stop-color="#32832b"/>
<stop offset="10%" stop-color="#438f3a"/>
<stop offset="12.5%" stop-color="#549a48"/>
<stop offset="15%" stop-color="#65a656"/>
<stop offset="17.5%" stop-color="#76b265"/>
<stop offset="20%" stop-color="#86be73"/>
<stop offset="22.5%" stop-color="#97c982"/>
<stop offset="25%" stop-color="#a8d590"/>
<stop offset="27.5%" stop-color="#b9e19e"/>
<stop offset="30%" stop-color="#caecad"/>
<stop offset="32.5%" stop-color="#daf8bb"/>
<stop offset="35%" stop-color="#e2fcb2"/>
<stop offset="37.5%" stop-color="#e4fc9e"/>
<stop offset="40%" stop-color="#e6fd8b"/>
<stop offset="42.5%" stop-color="#e9fd79"/>
<stop offset="45%" stop-color="#ebfd69"/>
<stop offset="47.5%" stop-color="#edfd5a"/>
<stop offset="50%" stop-color="#f0fe4c"/>
<stop offset="52.5%" stop-color="#f2fe3f"/>
<stop offset="55%" stop-color="#f4fe34"/>
<stop offset="57.5%" stop-color="#f6fe2b"/>
<stop offset="60%" stop-color="#f9fe23"/>
<stop offset="62.5%" stop-color="#fbff1d"/>
<stop offset="65%" stop-color="#fdff19"/>
<stop offset="66.66%" stop-color="#ffff18"/><stop offset="66.67%" stop-color="#fad92a"/>
<stop offset="67.5%" stop-color="#f9d529"/>
<stop offset="70%" stop-color="#f6c826"/>
<stop offset="72.5%" stop-color="#f3bc23"/>
<stop offset="75%" stop-color="#f0af1f"/>
<stop offset="77.5%" stop-color="#eca21c"/>
<stop offset="80%" stop-color="#e99619"/>
<stop offset="82.5%" stop-color="#e68916"/>
<stop offset="85%" stop-color="#e37d13"/>
<stop offset="87.5%" stop-color="#e07010"/>
<stop offset="90%" stop-color="#dd630d"/>
<stop offset="92.5%" stop-color="#d95709"/>
<stop offset="95%" stop-color="#d64a06"/>
<stop offset="97.5%" stop-color="#d33e03"/>
<stop offset="100%" stop-color="#d03100"/>
</linearGradient>
<clipPath id="k5"><polygon points="56.5,855.5 56.5,801.2 99.5,801.2 142.5,801.2 185.5,801.2 228.5,804.46 271.5,808.26 314.5,811.84 357.5,811.84 400.5,815.64 443.5,819.12 486.5,822.7 529.5,822.7 572.5,822.7 615.5,822.7 658.5,822.7 701.5,817.49 744.5,811.3 744.5,855.5"/></clipPath>
<rect x="56.5" y="798.7" width="688.0" height="56.8" fill="url(#gh)" clip-path="url(#k5)"/>
<g clip-path="url(#c5)" fill="none"><polyline points="56.5,801.2 99.5,801.2 142.5,801.2 185.5,801.2 228.5,804.46 271.5,808.26 314.5,811.84 357.5,811.84 400.5,815.64 443.5,819.12 486.5,822.7 529.5,822.7 572.5,822.7 615.5,822.7 658.5,822.7 701.5,817.49 744.5,811.3" stroke="#fff" stroke-width="2.6"/><polyline points="56.5,801.2 99.5,801.2 142.5,801.2 185.5,801.2 228.5,804.46 271.5,808.26 314.5,811.84 357.5,811.84 400.5,815.64 443.5,819.12 486.5,822.7 529.5,822.7 572.5,822.7 615.5,822.7 658.5,822.7 701.5,817.49 744.5,811.3" stroke="#000" stroke-opacity="0.7" stroke-width="0.9"/></g>
<text x="61.83" y="798.6" font-size="10.21" font-style="italic" textLength="5.74" lengthAdjust="spacingAndGlyphs">5</text>
<text x="96.33" y="798.6" font-size="10.21" font-style="italic" textLength="5.74" lengthAdjust="spacingAndGlyphs">5</text>
<text x="139.33" y="798.6" font-size="10.21" font-style="italic" textLength="5.74" lengthAdjust="spacingAndGlyphs">5</text>
<text x="182.33" y="798.6" font-size="10.21" font-style="italic" textLength="5.74" lengthAdjust="spacingAndGlyphs">5</text>
<text x="225.47" y="801.86" font-size="10.21" font-style="italic" textLength="5.86" lengthAdjust="spacingAndGlyphs">4</text>
<text x="268.47" y="805.66" font-size="10.21" font-style="italic" textLength="5.86" lengthAdjust="spacingAndGlyphs">4</text>
<text x="311.47" y="809.24" font-size="10.21" font-style="italic" textLength="5.86" lengthAdjust="spacingAndGlyphs">4</text>
<text x="354.47" y="809.24" font-size="10.21" font-style="italic" textLength="5.86" lengthAdjust="spacingAndGlyphs">4</text>
<text x="397.13" y="813.04" font-size="10.21" font-style="italic" textLength="5.97" lengthAdjust="spacingAndGlyphs">3</text>
<text x="440.13" y="816.52" font-size="10.21" font-style="italic" textLength="5.97" lengthAdjust="spacingAndGlyphs">3</text>
<text x="483.13" y="820.1" font-size="10.21" font-style="italic" textLength="5.97" lengthAdjust="spacingAndGlyphs">3</text>
<text x="526.13" y="820.1" font-size="10.21" font-style="italic" textLength="5.97" lengthAdjust="spacingAndGlyphs">3</text>
<text x="569.13" y="820.1" font-size="10.21" font-style="italic" textLength="5.97" lengthAdjust="spacingAndGlyphs">3</text>
<text x="612.13" y="820.1" font-size="10.21" font-style="italic" textLength="5.97" lengthAdjust="spacingAndGlyphs">3</text>
<text x="655.13" y="820.1" font-size="10.21" font-style="italic" textLength="5.97" lengthAdjust="spacingAndGlyphs">3</text>
<text x="698.13" y="814.89" font-size="10.21" font-style="italic" textLength="5.97" lengthAdjust="spacingAndGlyphs">3</text>
<text x="732.47" y="808.7" font-size="10.21" font-style="italic" textLength="5.86" lengthAdjust="spacingAndGlyphs">4</text>
<rect x="56.5" y="780.5" width="688.0" height="75.0" fill="none" stroke="#000" stroke-width="1.11"/>
<path d="M78.5 855.5v4.86M121.5 855.5v4.86M164.5 855.5v4.86M207.5 855.5v4.86M250.5 855.5v4.86M293.5 855.5v4.86M336.5 855.5v4.86M379.5 855.5v4.86M422.5 855.5v4.86M465.5 855.5v4.86M508.5 855.5v4.86M551.5 855.5v4.86M594.5 855.5v4.86M637.5 855.5v4.86M680.5 855.5v4.86M723.5 855.5v4.86" stroke="#000" stroke-width="1.11" fill="none"/>
<text x="60.25" y="874.65" font-size="10.94" textLength="36.15" lengthAdjust="spacingAndGlyphs">07/Abr</text>
<text x="103.25" y="874.65" font-size="10.94" textLength="36.15" lengthAdjust="spacingAndGlyphs">08/Abr</text>
<text x="146.25" y="874.65" font-size="10.94" textLength="36.15" lengthAdjust="spacingAndGlyphs">09/Abr</text>
<text x="189.27" y="874.65" font-size="10.94" textLength="36.12" lengthAdjust="spacingAndGlyphs">10/Abr</text>
<text x="232.27" y="874.65" font-size="10.94" textLength="36.12" lengthAdjust="spacingAndGlyphs">11/Abr</text>
<text x="275.27" y="874.65" font-size="10.94" textLength="36.12" lengthAdjust="spacingAndGlyphs">12/Abr</text>
<text x="318.27" y="874.65" font-size="10.94" textLength="36.12" lengthAdjust="spacingAndGlyphs">13/Abr</text>
<text x="361.27" y="874.65" font-size="10.94" textLength="36.12" lengthAdjust="spacingAndGlyphs">14/Abr</text>
<text x="404.27" y="874.65" font-size="10.94" textLength="36.12" lengthAdjust="spacingAndGlyphs">15/Abr</text>
<text x="447.27" y="874.65" font-size="10.94" textLength="36.12" lengthAdjust="spacingAndGlyphs">16/Abr</text>
<text x="490.27" y="874.65" font-size="10.94" textLength="36.12" lengthAdjust="spacingAndGlyphs">17/Abr</text>
<text x="533.27" y="874.65" font-size="10.94" textLength="36.12" lengthAdjust="spacingAndGlyphs">18/Abr</text>
<text x="576.27" y="874.65" font-size="10.94" textLength="36.12" lengthAdjust="spacingAndGlyphs">19/Abr</text>
<text x="619.19" y="874.65" font-size="10.94" textLength="36.2" lengthAdjust="spacingAndGlyphs">20/Abr</text>
<text x="662.19" y="874.65" font-size="10.94" textLength="36.2" lengthAdjust="spacingAndGlyphs">21/Abr</text>
<text x="705.19" y="874.65" font-size="10.94" textLength="36.2" lengthAdjust="spacingAndGlyphs">22/Abr</text>
<path d="M56.5 801.5h-4.86M56.5 828.5h-4.86M56.5 855.5h-4.86" stroke="#000" stroke-width="1.11" fill="none"/>
<text x="30.38" y="805.3" font-size="10.94" textLength="15.98" lengthAdjust="spacingAndGlyphs">5,0</text>
<text x="30.22" y="832.3" font-size="10.94" textLength="15.95" lengthAdjust="spacingAndGlyphs">2,5</text>
<text x="30.27" y="859.3" font-size="10.94" textLength="16.09" lengthAdjust="spacingAndGlyphs">0,0</text>
<text transform="translate(21.4 818.5) rotate(-90)" x="-8.74" y="0" font-size="10.21" textLength="17.47" lengthAdjust="spacingAndGlyphs">(HI)</text>
<text x="303.89" y="772.4" font-size="12.32" textLength="192.1" lengthAdjust="spacingAndGlyphs">Risco de Incêndio (Haines Index)</text>
</svg>
</body></html>
